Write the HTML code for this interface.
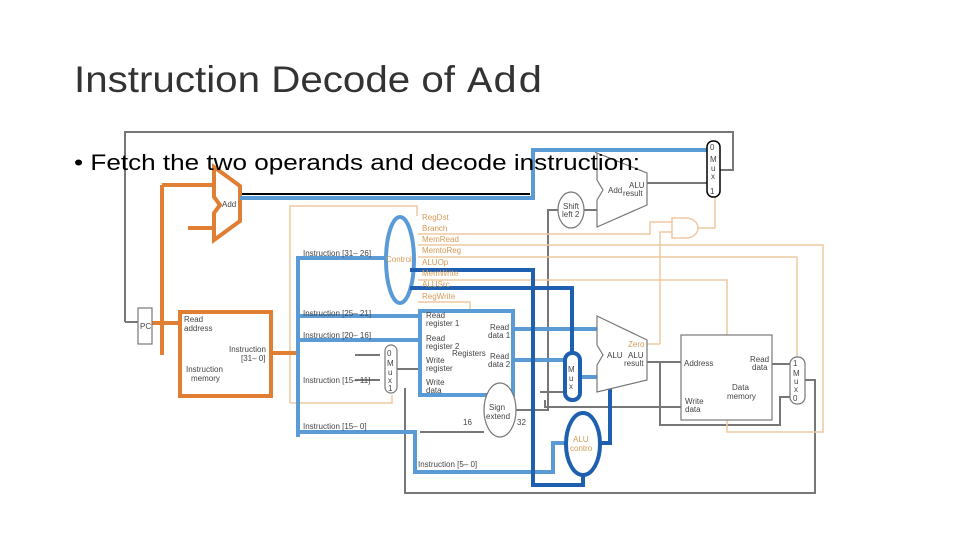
<!DOCTYPE html>
<html><head><meta charset="utf-8"><style>
body{margin:0;background:#fff;width:960px;height:540px;overflow:hidden;}
svg{position:absolute;left:0;top:0}
.s{font-family:"Liberation Sans",sans-serif;font-size:8px;fill:#444}
.o{font-family:"Liberation Sans",sans-serif;font-size:8px;fill:#d49a55}
</style></head><body>
<svg width="960" height="540" viewBox="0 0 960 540">
<!-- gray wires -->
<g fill="none" stroke="#777" stroke-width="2">
<polyline points="125,322 125,132 733,132 733,170 720,170"/>
<polyline points="125,322 138,322"/>
<polyline points="405,388 405,493 815,493 815,380 805,380"/>
<polyline points="420,432 484,432"/>
<polyline points="516,410 548,410 548,400 548,210 558,210"/>
<polyline points="584,210 597,210"/>
<polyline points="647,183 707,183"/>
<polyline points="533,150 596,150 596,153"/>
<polyline points="647,362 681,362"/>
<polyline points="660,362 660,425 780,425 780,397 790,397"/>
<polyline points="772,364 790,364"/>
<polyline points="545,400 545,407 681,407"/>
<polyline points="540,392 565,392"/>
<polyline points="355,355 380,355"/>
<polyline points="355,380 380,380"/>
<polyline points="397,369 420,369"/>
<polyline points="347,316 420,316"/>
</g>
<g fill="none" stroke="#000" stroke-width="2"><line x1="240" y1="194" x2="530" y2="194"/></g>
<!-- orange thin control wires -->
<g fill="none" stroke="#eec9a0" stroke-width="1.5">
<polyline points="290,403 290,206 417,206 417,216"/>
<polyline points="290,403 392,403 392,395"/>
<polyline points="418,234 650,234 650,222 672,222"/>
<polyline points="418,245 823,245 823,432 727,432 727,420"/>
<polyline points="418,257 797,257 797,357"/>
<polyline points="418,280 727,280 727,335"/>
<polyline points="418,302 470,302 470,311"/>
<polyline points="660,344 660,232 672,232"/>
<polyline points="698,228 715,228 715,197"/>
<polyline points="647,344 660,344"/>
</g>
<!-- orange thick -->
<g fill="none" stroke="#e07f33" stroke-width="4">
<polygon points="214,167 240,186 240,221 214,240 214,213 220,205 214,197"/>
<polyline points="162,185 214,185"/>
<polyline points="162,185 162,355"/>
<polyline points="188,228 214,228"/>
<polyline points="152,323 180,323"/>
<rect x="180" y="312" width="91" height="84"/>
<line x1="271" y1="353" x2="298" y2="353"/>
</g>
<!-- light blue thick -->
<g fill="none" stroke="#5b9bd5" stroke-width="4">
<polyline points="240,198 533,198 533,150 710,150"/>
<polyline points="298,437 298,258 385,258"/>
<line x1="298" y1="316" x2="420" y2="316"/>
<line x1="298" y1="340" x2="420" y2="340"/>
<polyline points="298,432 415,432 415,472 553,472 553,443 566,443"/>
<rect x="420" y="311" width="93" height="84"/>
<line x1="513" y1="329" x2="597" y2="329"/>
<line x1="513" y1="360" x2="565" y2="360"/>
<line x1="580" y1="377" x2="597" y2="377"/>
<ellipse cx="400" cy="260" rx="14" ry="43"/>
</g>
<!-- dark blue -->
<g fill="none" stroke="#1f5fb0" stroke-width="4">
<polyline points="410,270 533,270 533,485 583,485 583,474"/>
<polyline points="410,288 572,288 572,355"/>
<rect x="565" y="353" width="15" height="47" rx="7"/>
<polyline points="610,384 610,443 600,443"/>
<ellipse cx="583" cy="444" rx="17" ry="31"/>
</g>
<!-- components -->
<g fill="#fff" stroke="#777" stroke-width="1.2">
<rect x="138" y="308" width="14" height="36"/>
<rect x="385" y="345" width="12" height="48" rx="6"/>
<polygon points="597,316 647,340 647,380 597,392 597,365 603,355 597,345"/>
<polygon points="597,153 647,173 647,205 597,227 597,200 603,190 597,180"/>
<ellipse cx="571" cy="210" rx="13" ry="18"/>
<ellipse cx="500" cy="410" rx="16" ry="27"/>
<rect x="681" y="335" width="91" height="85"/>
<rect x="790" y="357" width="15" height="47" rx="7"/>
</g>
<rect x="707" y="141" width="13" height="56" rx="6" fill="#fff" stroke="#000" stroke-width="1.5"/>
<path d="M672,218 h14 a12,10 0 0 1 0,20 h-14 z" fill="#fff" stroke="#eec9a0" stroke-width="1.5"/>
<!-- labels -->
<text x="222" y="207" class="s">Add</text>
<text x="140" y="329" class="s">PC</text>
<text x="184" y="322" class="s">Read</text><text x="184" y="331" class="s">address</text>
<text x="229" y="352" class="s">Instruction</text><text x="241" y="361" class="s">[31– 0]</text>
<text x="186" y="372" class="s">Instruction</text><text x="191" y="381" class="s">memory</text>
<text x="303" y="256" class="s">Instruction [31– 26]</text>
<text x="303" y="316" class="s">Instruction [25– 21]</text>
<text x="303" y="338" class="s">Instruction [20– 16]</text>
<text x="303" y="383" class="s">Instruction [15– 11]</text>
<text x="303" y="429" class="s">Instruction [15– 0]</text>
<text x="418" y="467" class="s">Instruction [5– 0]</text>
<text x="386" y="262" class="o">Control</text>
<g class="o"><text x="422" y="220">RegDst</text><text x="422" y="231">Branch</text><text x="422" y="242">MemRead</text><text x="422" y="253">MemtoReg</text><text x="422" y="265">ALUOp</text><text x="422" y="276">MemWrite</text><text x="422" y="287">ALUSrc</text><text x="422" y="299">RegWrite</text></g>
<text x="426" y="318" class="s">Read</text><text x="426" y="326" class="s">register 1</text>
<text x="426" y="341" class="s">Read</text><text x="426" y="349" class="s">register 2</text>
<text x="426" y="363" class="s">Write</text><text x="426" y="371" class="s">register</text>
<text x="426" y="385" class="s">Write</text><text x="426" y="393" class="s">data</text>
<text x="452" y="356" class="s">Registers</text>
<text x="490" y="330" class="s">Read</text><text x="488" y="338" class="s">data 1</text>
<text x="490" y="359" class="s">Read</text><text x="488" y="367" class="s">data 2</text>
<text x="387" y="356" class="s">0</text><text x="387" y="366" class="s">M</text><text x="388" y="375" class="s">u</text><text x="388" y="383" class="s">x</text><text x="388" y="391" class="s">1</text>
<text x="489" y="410" class="s">Sign</text><text x="486" y="419" class="s">extend</text>
<text x="463" y="425" class="s">16</text><text x="517" y="425" class="s">32</text>
<text x="568" y="372" class="s">M</text><text x="569" y="381" class="s">u</text><text x="569" y="389" class="s">x</text>
<text x="573" y="442" class="o">ALU</text><text x="570" y="451" class="o">contro</text>
<text x="607" y="358" class="s">ALU</text>
<text x="628" y="347" class="o">Zero</text>
<text x="628" y="358" class="s">ALU</text><text x="624" y="366" class="s">result</text>
<text x="684" y="366" class="s">Address</text>
<text x="750" y="362" class="s">Read</text><text x="752" y="370" class="s">data</text>
<text x="732" y="390" class="s">Data</text><text x="727" y="399" class="s">memory</text>
<text x="685" y="404" class="s">Write</text><text x="685" y="412" class="s">data</text>
<text x="793" y="366" class="s">1</text><text x="793" y="376" class="s">M</text><text x="794" y="384" class="s">u</text><text x="794" y="392" class="s">x</text><text x="793" y="401" class="s">0</text>
<text x="608" y="193" class="s">Add</text><text x="629" y="188" class="s">ALU</text><text x="623" y="196" class="s">result</text>
<text x="563" y="209" class="s">Shift</text><text x="562" y="217" class="s">left 2</text>
<text x="710" y="150" class="s">0</text><text x="710" y="162" class="s">M</text><text x="711" y="171" class="s">u</text><text x="711" y="179" class="s">x</text><text x="710" y="194" class="s">1</text>
<!-- title -->
<text x="74" y="92" font-family="Liberation Sans, sans-serif" font-size="37" fill="#333" textLength="381" lengthAdjust="spacingAndGlyphs">Instruction Decode of</text>
<text x="467" y="92" font-family="Liberation Mono, monospace" font-size="37" fill="#333" textLength="76" lengthAdjust="spacingAndGlyphs">Add</text>
<text x="74" y="170" font-family="Liberation Sans, sans-serif" font-size="22" fill="#000" textLength="566" lengthAdjust="spacingAndGlyphs">• Fetch the two operands and decode instruction:</text>
</svg>
</body></html>
